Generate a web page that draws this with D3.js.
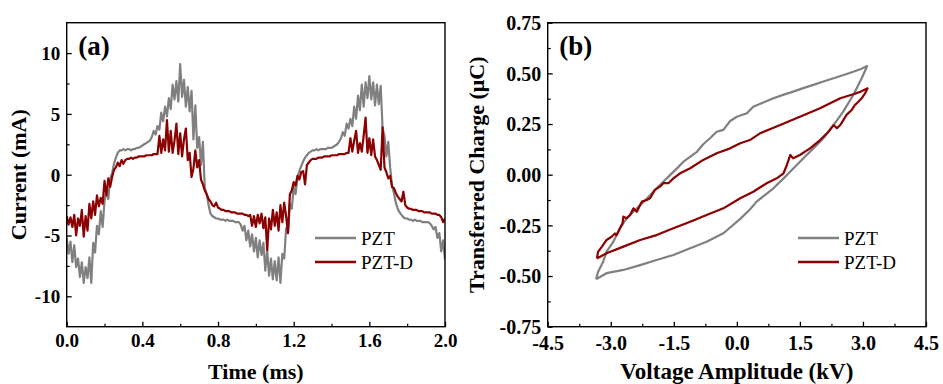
<!DOCTYPE html>
<html><head><meta charset="utf-8">
<script src="https://cdn.jsdelivr.net/npm/d3@7"></script>
<style>body{margin:0;background:#fff}svg{display:block}</style>
</head><body>
<svg id="c" width="943" height="384"></svg>
<script>
// ---------- DATA ----------
// Panel (a): current vs time, sampled every 0.01 ms from 0 to 2 ms
const timeStart = 0, timeStep = 0.01;
const currentPZT = [
-5.2,-6.5,-5.5,-7.2,-5.8,-7.6,-6.9,-8.4,-7.2,-8.9,
-7.6,-8.5,-6.8,-8.9,-5.6,-6.4,-4.2,-4.9,-3.0,-4.3,
-2.2,-1.2,-2.0,-0.3,0.1,0.9,1.4,1.8,2.0,2.0,
2.1,2.0,2.1,2.1,2.0,2.1,2.1,2.2,2.2,2.3,
2.4,2.5,2.6,2.7,2.8,3.1,3.6,3.3,4.0,3.7,
5.1,4.4,5.6,4.8,6.3,5.4,7.4,6.2,7.7,6.0,
9.1,6.4,7.8,5.6,7.2,5.2,6.9,2.9,5.7,2.2,
3.1,0.8,2.7,-1.1,-1.6,-2.5,-3.2,-3.4,-3.5,-3.6,
-3.6,-3.7,-3.7,-3.7,-3.8,-3.7,-3.8,-3.8,-3.8,-3.9,
-3.9,-3.9,-4.1,-4.6,-4.2,-5.4,-4.6,-5.9,-4.9,-6.3,
-5.2,-6.8,-5.4,-6.6,-5.6,-7.9,-6.2,-8.3,-6.9,-8.6,
-7.1,-8.7,-6.8,-8.9,-6.5,-6.9,-4.4,-4.8,-2.4,-2.8,
-1.0,-1.6,-0.2,0.3,0.7,1.1,1.4,1.6,1.8,1.9,
2.0,2.0,2.1,2.0,2.1,2.1,2.1,2.1,2.2,2.2,
2.2,2.3,2.4,2.5,2.7,3.0,3.5,3.2,4.2,3.8,
4.6,4.0,5.6,4.6,6.5,5.3,7.4,5.6,7.6,6.3,
8.1,6.2,7.6,5.7,7.4,5.8,7.3,3.8,3.2,1.5,
2.7,0.6,-0.9,-1.5,-2.3,-2.8,-3.1,-3.3,-3.5,-3.6,
-3.6,-3.7,-3.7,-3.8,-3.7,-3.8,-3.8,-3.8,-3.9,-3.9,
-3.9,-3.9,-4.0,-4.2,-4.5,-4.3,-5.2,-4.8,-6.3,-5.4,
-7.0];
const currentPZTD = [
-3.4,-4.1,-3.5,-4.3,-3.3,-5.0,-3.6,-4.2,-2.9,-5.1,
-3.4,-4.6,-2.4,-3.6,-2.2,-3.3,-1.7,-2.6,-1.9,-2.4,
-0.5,-1.7,-0.3,-1.0,-0.2,0.4,0.6,1.0,0.7,1.2,
0.9,1.2,1.3,1.3,1.4,1.3,1.4,1.4,1.5,1.5,
1.5,1.5,1.6,1.6,1.6,1.6,1.7,1.7,1.7,3.2,
1.8,2.9,2.0,4.5,1.9,3.6,1.8,2.8,4.2,1.7,
3.4,1.5,2.9,3.8,1.2,1.8,-0.2,0.5,2.0,0.6,
1.2,-0.4,-0.8,-1.3,-1.6,-2.0,-2.2,-2.5,-2.6,-2.3,
-2.7,-2.8,-2.9,-2.9,-3.0,-3.0,-3.0,-3.1,-3.1,-3.1,
-3.2,-3.2,-3.2,-3.2,-3.3,-3.3,-3.4,-3.3,-4.2,-3.4,
-4.3,-3.3,-4.0,-3.2,-4.4,-3.5,-6.2,-3.6,-4.5,-2.9,
-4.2,-3.1,-4.6,-2.5,-3.9,-2.3,-3.4,-4.8,-1.6,-1.3,
-0.6,-0.9,-0.1,-0.4,0.2,0.3,-0.8,0.8,1.0,1.2,
1.3,1.3,1.3,1.4,1.4,1.4,1.5,1.5,1.5,1.5,
1.6,1.6,1.6,1.6,1.7,1.7,1.7,1.7,1.8,1.8,
3.0,1.9,2.8,3.6,1.8,2.6,1.9,3.2,4.7,1.8,
3.0,1.6,2.9,1.5,1.2,0.8,0.4,3.9,0.6,0.2,
-0.3,-0.1,-1.0,-1.1,-1.5,-1.8,-2.0,-2.2,-1.4,-2.5,
-2.7,-2.8,-2.8,-2.9,-2.9,-2.9,-3.0,-3.0,-3.0,-3.1,
-3.1,-3.1,-3.1,-3.2,-3.2,-3.2,-3.3,-3.3,-3.5,-3.9,
-3.6];
const timeTicks = [0.0, 0.4, 0.8, 1.2, 1.6, 2.0];
const currentTicks = [-10, -5, 0, 5, 10];

// Panel (b): transferred charge vs voltage (closed loops, in path order)
const voltagePZT = [-3.35,-3.30,-3.18,-3.10,-2.94,-2.78,-2.62,-2.38,-2.14,-1.91,-1.75,-1.59,-1.43,-1.27,-0.95,-0.80,-0.64,-0.48,-0.32,-0.16,0.0,0.24,0.39,0.63,0.87,1.10,1.34,1.58,1.82,2.06,2.30,2.54,2.77,2.95,3.10,
  2.97,2.77,2.53,2.30,2.06,1.82,1.50,1.19,0.87,0.47,0.31,0.08,-0.32,-0.72,-1.11,-1.51,-1.91,-2.30,-2.70,-3.10,-3.35];
const chargePZT = [-0.516,-0.479,-0.429,-0.380,-0.331,-0.264,-0.215,-0.166,-0.117,-0.067,-0.035,-0.002,0.030,0.064,0.113,0.150,0.180,0.212,0.221,0.265,0.286,0.303,0.335,0.356,0.377,0.394,0.410,0.427,0.443,0.460,0.476,0.492,0.508,0.522,0.536,
  0.476,0.393,0.311,0.245,0.180,0.130,0.064,-0.002,-0.067,-0.133,-0.172,-0.218,-0.289,-0.331,-0.363,-0.396,-0.421,-0.446,-0.470,-0.486,-0.516];
const voltagePZTD = [-3.33,-3.30,-3.21,-3.10,-2.98,-2.90,-2.86,-2.78,-2.72,-2.70,-2.62,-2.54,-2.46,-2.38,-2.30,-2.26,-2.14,-2.06,-2.02,-1.95,-1.83,-1.75,-1.63,-1.51,-1.35,-1.11,-0.80,-0.48,-0.16,0.08,0.31,0.55,1.03,1.50,1.98,2.46,2.77,2.95,3.11,
  3.05,2.97,2.89,2.81,2.73,2.61,2.46,2.38,2.30,2.18,1.98,1.74,1.50,1.34,1.27,1.19,1.11,0.95,0.71,0.39,0.08,-0.32,-0.72,-1.11,-1.51,-1.91,-2.30,-2.70,-3.10,-3.33];
const chargePZTD = [-0.413,-0.380,-0.355,-0.322,-0.306,-0.290,-0.298,-0.264,-0.240,-0.207,-0.215,-0.199,-0.166,-0.183,-0.150,-0.133,-0.125,-0.115,-0.100,-0.075,-0.059,-0.042,-0.042,-0.018,0.007,0.032,0.073,0.106,0.130,0.155,0.171,0.204,0.245,0.286,0.328,0.377,0.397,0.410,0.426,
  0.401,0.377,0.360,0.344,0.319,0.295,0.245,0.229,0.245,0.212,0.171,0.130,0.097,0.081,0.097,0.048,0.007,-0.018,-0.042,-0.084,-0.116,-0.166,-0.199,-0.232,-0.264,-0.298,-0.322,-0.355,-0.388,-0.413];
const voltageTicks = [-4.5, -3.0, -1.5, 0.0, 1.5, 3.0, 4.5];
const chargeTicks = [-0.75, -0.50, -0.25, 0.00, 0.25, 0.50, 0.75];

const seriesNames = ["PZT", "PZT-D"];
const seriesColors = ["#808080", "#8b0000"];

// ---------- DRAW ----------
const svg = d3.select("#c");
const FONT = "'Liberation Serif','Times New Roman',serif";

function panel(opt) {
  const g = svg.append("g");
  const x = d3.scaleLinear().domain(opt.xDomain).range([opt.left, opt.right]);
  const y = d3.scaleLinear().domain(opt.yDomain).range([opt.bottom, opt.top]);

  const cid = "clip" + opt.id;
  svg.append("clipPath").attr("id", cid).append("rect")
    .attr("x", opt.left).attr("y", opt.top)
    .attr("width", opt.right - opt.left).attr("height", opt.bottom - opt.top);

  const lg = g.append("g").attr("clip-path", `url(#${cid})`);
  opt.series.forEach((s, i) => {
    const line = d3.line().x(d => x(d[0])).y(d => y(d[1]));
    lg.append("path").datum(s).attr("d", line)
      .attr("fill", "none").attr("stroke", seriesColors[i])
      .attr("stroke-width", 2.2).attr("stroke-linejoin", "round");
  });

  g.append("rect").attr("x", opt.left).attr("y", opt.top)
    .attr("width", opt.right - opt.left).attr("height", opt.bottom - opt.top)
    .attr("fill", "none").attr("stroke", "#000").attr("stroke-width", 1.4);

  const xMinor = [];
  for (let i = 0; i < opt.xTicks.length - 1; i++) xMinor.push((opt.xTicks[i] + opt.xTicks[i + 1]) / 2);
  const xa = g.append("g").attr("transform", `translate(0,${opt.bottom})`)
    .call(d3.axisBottom(x).tickValues(opt.xTicks).tickSize(-5).tickFormat(opt.xFmt));
  xa.select(".domain").remove();
  xa.selectAll("line").attr("stroke", "#000").attr("stroke-width", 1.3);
  xa.selectAll("text").attr("font-family", FONT).attr("font-weight", "bold")
    .attr("font-size", opt.tickFont).attr("fill", "#000").attr("y", opt.xLabY).attr("dy", 0);
  const xm = g.append("g").attr("transform", `translate(0,${opt.bottom})`)
    .call(d3.axisBottom(x).tickValues(xMinor).tickSize(-3).tickFormat(""));
  xm.select(".domain").remove();
  xm.selectAll("line").attr("stroke", "#000").attr("stroke-width", 1.2);

  const yMinor = [];
  for (let i = 0; i < opt.yTicks.length - 1; i++) yMinor.push((opt.yTicks[i] + opt.yTicks[i + 1]) / 2);
  const ya = g.append("g").attr("transform", `translate(${opt.left},0)`)
    .call(d3.axisLeft(y).tickValues(opt.yTicks).tickSize(-5).tickFormat(opt.yFmt));
  ya.select(".domain").remove();
  ya.selectAll("line").attr("stroke", "#000").attr("stroke-width", 1.3);
  ya.selectAll("text").attr("font-family", FONT).attr("font-weight", "bold")
    .attr("font-size", opt.tickFont).attr("fill", "#000").attr("x", -opt.yLabGap).attr("dy", "0.34em");
  const ym = g.append("g").attr("transform", `translate(${opt.left},0)`)
    .call(d3.axisLeft(y).tickValues(yMinor).tickSize(-3).tickFormat(""));
  ym.select(".domain").remove();
  ym.selectAll("line").attr("stroke", "#000").attr("stroke-width", 1.2);

  g.append("text").attr("x", (opt.left + opt.right) / 2).attr("y", 378.5)
    .attr("text-anchor", "middle").attr("font-family", FONT).attr("font-weight", "bold")
    .attr("font-size", opt.titleFont).text(opt.xTitle);
  g.append("text").attr("transform", `translate(${opt.yTitleX},${(opt.top + opt.bottom) / 2}) rotate(-90)`)
    .attr("text-anchor", "middle").attr("font-family", FONT).attr("font-weight", "bold")
    .attr("font-size", 22).text(opt.yTitle);

  g.append("text").attr("x", opt.left + 11.5).attr("y", 55)
    .attr("font-family", FONT).attr("font-weight", "bold").attr("font-size", 27).text(opt.label);

  seriesNames.forEach((n, i) => {
    const ly = opt.legY + i * 24;
    g.append("line").attr("x1", opt.legX).attr("x2", opt.legX + 41).attr("y1", ly).attr("y2", ly)
      .attr("stroke", seriesColors[i]).attr("stroke-width", 2.6);
    g.append("text").attr("x", opt.legX + 46).attr("y", ly).attr("dy", "0.35em")
      .attr("font-family", FONT).attr("font-size", 19).attr("fill", "#000").text(n);
  });
}

panel({
  id: "a", left: 66.7, right: 445, top: 22.7, bottom: 326.7,
  xDomain: [0, 2], yDomain: [-12.5, 12.5],
  xTicks: timeTicks, yTicks: currentTicks,
  xFmt: d3.format(".1f"), yFmt: d => d3.format("d")(d).replace("\u2212", "-"),
  tickFont: 19, titleFont: 22, xLabY: 20.5, yLabGap: 6.5,
  xTitle: "Time (ms)", yTitle: "Current (mA)", yTitleX: 26,
  label: "(a)", legX: 315, legY: 238,
  series: [currentPZT.map((v, i) => [timeStart + i * timeStep, v]),
           currentPZTD.map((v, i) => [timeStart + i * timeStep, v])]
});

panel({
  id: "b", left: 547.7, right: 926, top: 22.7, bottom: 326.7,
  xDomain: [-4.5, 4.5], yDomain: [-0.75, 0.75],
  xTicks: voltageTicks, yTicks: chargeTicks,
  xFmt: d => d3.format(".1f")(d).replace("\u2212", "-"), yFmt: d => d3.format(".2f")(d).replace("\u2212", "-"),
  tickFont: 20, titleFont: 23, xLabY: 23.5, yLabGap: 6.5,
  xTitle: "Voltage Amplitude (kV)", yTitle: "Transferred Charge (\u03bcC)", yTitleX: 484,
  label: "(b)", legX: 798, legY: 238,
  series: [voltagePZT.map((v, i) => [v, chargePZT[i]]),
           voltagePZTD.map((v, i) => [v, chargePZTD[i]])]
});
</script>
</body></html>
